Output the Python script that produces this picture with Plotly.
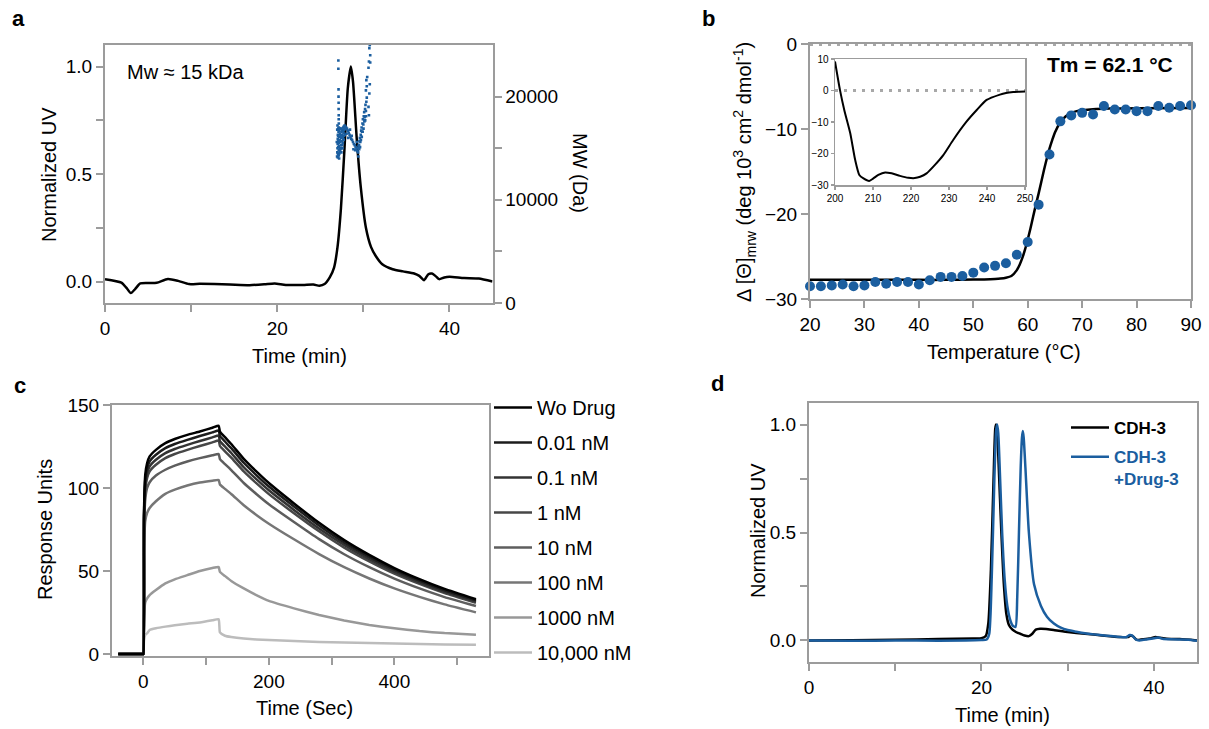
import plotly.graph_objects as go

W, H = 1209, 729
FONT = "Liberation Sans, Arial, Helvetica, sans-serif"
GRAY = "#9c9c9c"
BLUE = "#1b5e9f"


def px(x):
    return x / W


def py(y):
    return 1 - y / H


# ---------------- Panel a: SEC-MALS ----------------
a_time = [0, 1.9, 2.5, 3.0, 3.5, 4.1, 5, 6.0, 7.3, 8.5, 9.75, 11, 12.7, 14.5, 16.8, 18.5, 19.7, 21, 23, 24.2, 24.9,
          25.5, 26.1, 26.6, 27.0, 27.4, 27.8, 28.2, 28.55, 28.8, 29.25, 29.7, 30.3, 30.9, 31.5, 32.2, 33.4, 34.6,
          35.9, 36.5, 37.05, 37.55, 37.97, 38.4, 38.8, 39.4, 40.0, 41.7, 43.4, 45]
a_uv = [0.011, -0.005, -0.03, -0.054, -0.035, -0.009, -0.007, -0.006, 0.012, 0.003, -0.012, -0.011, -0.012, -0.014,
        -0.017, -0.013, -0.009, -0.016, -0.016, -0.014, -0.02, -0.012, 0.019, 0.065, 0.16, 0.34, 0.61, 0.90, 1.0,
        0.93, 0.655, 0.44, 0.25, 0.16, 0.115, 0.08, 0.057, 0.047, 0.037, 0.026, 0.006, 0.034, 0.037, 0.025, 0.011,
        0.019, 0.022, 0.016, 0.014, 0.0]
mw_time = [26.95, 26.98, 27.0, 27.02, 27.03, 27.05, 27.06, 27.08, 27.1, 27.12, 27.14, 27.16, 27.18, 27.2, 27.22,
           27.25, 27.28, 27.3, 27.33, 27.36, 27.4, 27.43, 27.46, 27.5, 27.53, 27.56, 27.6, 27.63, 27.66, 27.7,
           27.74, 27.78, 27.82, 27.86, 27.9,
           26.92, 26.97, 27.04, 27.09, 27.15, 27.21, 27.27, 27.35, 27.42, 27.48, 27.55, 27.62, 27.68, 27.76,
           27.84, 27.0, 27.07, 27.19, 27.31, 27.45, 27.58, 27.72,
           27.1, 27.1, 27.12, 27.12, 27.13, 27.13, 27.14, 27.14, 27.15, 27.16,
           28.0, 28.1, 28.2, 28.3, 28.4, 28.5, 28.6, 28.7, 28.8, 28.9, 29.0, 29.1, 29.2, 29.3, 29.35, 29.4, 29.45,
           28.05, 28.25, 28.45, 28.65, 28.85, 29.05, 29.25, 29.42,
           29.5, 29.55, 29.6, 29.65, 29.7, 29.75, 29.8, 29.85, 29.9, 29.95, 30.0, 30.05, 30.1, 30.15, 30.2, 30.25,
           30.3, 30.35, 30.4,
           29.52, 29.62, 29.72, 29.82, 29.92, 30.02, 30.12, 30.22, 30.32,
           30.3, 30.4, 30.35, 30.45, 30.6, 30.65, 30.7, 30.75, 30.8, 30.8, 30.65, 30.7, 30.75, 30.6]
mw_val = [14200, 14600, 15000, 15400, 15900, 16300, 14400, 15100, 15700, 16600, 14800, 15500, 16100, 15200, 14500,
          15800, 16400, 15000, 15600, 16200, 15300, 16000, 16600, 15700, 16300, 16800, 16100, 16700, 17000, 16500,
          17100, 16800, 17200, 16900, 17100,
          15600, 16800, 14100, 16900, 14300, 16700, 14700, 14900, 16900, 15000, 15300, 15500, 15900, 16200,
          16300, 17200, 16200, 14000, 16900, 14600, 15000, 15800,
          23500, 22700, 20700, 20000, 19400, 18800, 18200, 17800, 17400, 17000,
          17000, 16900, 16700, 16500, 16300, 16100, 15900, 15800, 15600, 15400, 15300, 15100, 14900, 14700, 15000,
          14600, 15200,
          16400, 16000, 16800, 16200, 14900, 14800, 15600, 14200,
          15300, 15700, 16000, 15600, 16300, 16700, 17000, 16600, 17400, 17800, 17300, 18100, 18500, 18000, 18800,
          19200, 18600, 19500, 19900,
          14900, 15100, 15800, 16100, 16600, 16900, 17600, 17700, 18100,
          20600, 21000, 21600, 21900, 19000, 18200, 20300, 21200, 23300, 24000, 23400, 24700, 25000, 22800]

# ---------------- Panel b: thermal melt + inset CD ----------------
b_temp = [20, 22, 24, 26, 28, 30, 32, 34, 36, 38, 40, 42, 44, 46, 48, 50, 52, 54, 56, 58, 60, 62, 64, 66, 68, 70,
          72, 74, 76, 78, 80, 82, 84, 86, 88, 90]
b_theta = [-28.5, -28.5, -28.4, -28.3, -28.5, -28.4, -28.0, -28.2, -28.0, -28.0, -28.3, -27.8, -27.4, -27.4,
           -27.3, -26.9, -26.3, -26.1, -25.8, -24.8, -23.3, -18.9, -13.0, -9.1, -8.4, -8.1, -8.3, -7.3, -7.7,
           -7.7, -7.9, -7.9, -7.3, -7.5, -7.3, -7.2]
fit_temp = [20, 30, 40, 45, 50, 52, 54, 55, 56, 57, 58, 58.5, 59, 59.5, 60, 60.5, 61, 61.5, 62, 62.5, 63, 63.5, 64,
            64.5, 65, 66, 67, 68, 69, 70, 72, 75, 80, 90]
fit_theta = [-27.75, -27.75, -27.75, -27.75, -27.72, -27.7, -27.65, -27.6, -27.5, -27.3, -26.6, -26.0, -25.2, -24.2,
             -23.0, -21.7, -20.3, -18.9, -17.6, -16.2, -14.8, -13.5, -12.3, -11.3, -10.4, -9.2, -8.5, -8.1, -7.9,
             -7.8, -7.68, -7.6, -7.56, -7.54]
zero_temp = [20, 90]
zero_theta = [0, 0]

cd_wl = [200, 201.3, 202.5, 204, 205.3, 206.4, 207.5, 209, 210.1, 211.4, 213.2, 214.9, 217.1, 219.3, 221, 222.4,
         224.1, 226.3, 228.5, 231.1, 234.6, 237.3, 239.9, 243.4, 245, 246.9, 248.5, 250]
cd_mre = [9.2, 0.2, -6.5, -13.5, -22, -26.8, -27.9, -28.7, -27.9, -26.8, -26.0, -26.3, -27.1, -27.7, -27.8, -27.4,
          -26.3, -23.6, -20.5, -15.7, -9.9, -6.2, -3.0, -1.3, -0.8, -0.5, -0.4, -0.3]
cd_zero_wl = [200, 250]
cd_zero = [0, 0]

# ---------------- Panel c: SPR sensorgrams ----------------
c_time = [-40, -1, 0, 1, 3, 6, 10, 20, 35, 50, 70, 90, 110, 120, 122, 130, 140, 160, 180, 200, 240, 280, 320, 360,
          400, 440, 480, 530]
c_names = ["Wo Drug", "0.01 nM", "0.1 nM", "1 nM", "10 nM", "100 nM", "1000 nM", "10,000 nM"]
c_wo = [0, 0, 0, 85, 108, 115, 119, 123, 127, 129.5, 132, 134, 136.3, 137.5,
        134, 130.6, 126.5, 117.6, 110, 103, 90.7, 79, 68.6, 59.7, 51.8, 45.1, 39.2, 33]
c_001 = [0, 0, 0, 83, 105, 112, 116, 120, 124, 126.5, 129, 131.3, 133.5, 134.7,
         131.3, 128.0, 124.0, 115.2, 107.8, 100.9, 88.9, 77.4, 67.2, 58.5, 50.8, 44.2, 38.4, 32.3]
c_01 = [0, 0, 0, 81, 102, 109, 113, 117, 121, 123.5, 126, 128.3, 130.5, 131.6,
        128.2, 125.0, 121.1, 112.5, 105.3, 98.6, 86.8, 75.6, 65.7, 57.1, 49.6, 43.2, 37.5, 31.6]
c_1 = [0, 0, 0, 79, 99, 106, 110, 114, 118, 120.5, 123, 125.3, 127.5, 128.6,
       125.3, 122.1, 118.3, 110.0, 102.9, 96.3, 84.8, 73.9, 64.1, 55.8, 48.4, 42.2, 36.7, 30.9]
c_10 = [0, 0, 0, 72, 93, 100, 103.5, 107.5, 111, 113.5, 116, 118, 119.7, 120.5,
        117.4, 114.4, 110.8, 103.0, 96.4, 90.2, 79.5, 69.2, 60.1, 52.3, 45.4, 39.5, 34.3, 28.9]
c_100 = [0, 0, 0, 60, 80, 85, 88, 92, 96.5, 99, 101.5, 103.3, 104.4, 104.8,
         102.1, 99.5, 96.4, 89.6, 83.8, 78.5, 69.1, 60.2, 52.3, 45.5, 39.5, 34.4, 29.9, 25.1]
c_1000 = [0, 0, 0, 22, 31, 33.5, 35.5, 38.5, 42.5, 45, 47.5, 50, 51.8, 52.4,
          49.5, 47, 44, 39.5, 35.5, 32, 27.5, 23.5, 20.2, 17.5, 15.5, 13.8, 12.6, 11.6]
c_10000 = [0, 0, 0, 8, 11.5, 12.5, 14.5, 15.5, 16.5, 17.3, 18.2, 19, 20.3, 21,
           13, 11, 10.2, 9.3, 8.8, 8.4, 7.8, 7.3, 6.9, 6.6, 6.3, 6.0, 5.8, 5.6]
c_series = [c_wo, c_001, c_01, c_1, c_10, c_100, c_1000, c_10000]
c_colors = ["#000000", "#1c1c1c", "#333333", "#474747", "#5e5e5e", "#767676", "#989898", "#bcbcbc"]

# ---------------- Panel d: SEC overlay ----------------
d_time_cdh = [0, 5, 10, 15, 19, 20, 20.5, 20.8, 21.1, 21.4, 21.6, 21.7, 21.85, 22.0, 22.3, 22.6, 22.9, 23.2, 23.6,
              24.0, 24.5, 25.0, 25.5, 25.9, 26.3, 26.8, 27.5, 28.5, 30, 32, 34, 36, 37, 37.3, 37.6, 38.0, 38.5,
              39.5, 40.2, 40.7, 41.5, 43, 45]
d_uv_cdh = [0.0, 0.001, 0.003, 0.006, 0.009, 0.01, 0.02, 0.08, 0.33, 0.74, 0.98, 1.0, 0.95, 0.81, 0.51, 0.26, 0.12,
            0.07, 0.05, 0.039, 0.031, 0.023, 0.02, 0.031, 0.05, 0.054, 0.053, 0.047, 0.039, 0.031, 0.023, 0.016,
            0.016, 0.023, 0.018, 0.003, 0.004, 0.009, 0.016, 0.012, 0.008, 0.006, 0.0]
d_time_drug = [0, 5, 10, 15, 20, 20.6, 20.9, 21.2, 21.5, 21.7, 21.82, 21.95, 22.1, 22.4, 22.7, 23.0, 23.3, 23.6,
               23.95, 24.15, 24.35, 24.55, 24.7, 24.8, 24.9, 25.1, 25.5, 26.1, 26.9, 27.6, 28.4, 29.2, 30, 31, 32,
               33, 34, 35, 36, 36.8, 37.2, 37.5, 37.9, 38.3, 39, 40, 40.5, 41, 42, 43, 44, 45]
d_uv_drug = [0.0, -0.002, 0.0, -0.001, 0.002, 0.004, 0.03, 0.3, 0.75, 0.97, 1.0, 0.96, 0.82, 0.5, 0.28, 0.16, 0.1,
             0.07, 0.062, 0.2, 0.5, 0.8, 0.94, 0.97, 0.94, 0.8, 0.5, 0.26, 0.16, 0.11, 0.078, 0.059, 0.048, 0.04,
             0.033, 0.028, 0.024, 0.02, 0.016, 0.015, 0.025, 0.022, 0.004, 0.0, 0.004, 0.01, 0.014, 0.008, 0.005,
             0.004, 0.003, -0.002]

fig = go.Figure()

# a
fig.add_trace(go.Scatter(x=mw_time, y=mw_val, mode="markers", xaxis="x", yaxis="y2",
                         marker=dict(symbol="square", size=2.6, color=BLUE), showlegend=False))
fig.add_trace(go.Scatter(x=a_time, y=a_uv, mode="lines", xaxis="x", yaxis="y",
                         line=dict(color="black", width=2.5, shape="spline", smoothing=0.6), showlegend=False))
# b
fig.add_trace(go.Scatter(x=zero_temp, y=zero_theta, mode="lines", xaxis="x2", yaxis="y3",
                         line=dict(color="#a8a8a8", width=4, dash="3px,6px"), showlegend=False))
fig.add_trace(go.Scatter(x=fit_temp, y=fit_theta, mode="lines", xaxis="x2", yaxis="y3",
                         line=dict(color="black", width=2.5, shape="spline", smoothing=0.6), showlegend=False))
fig.add_trace(go.Scatter(x=b_temp, y=b_theta, mode="markers", xaxis="x2", yaxis="y3", cliponaxis=False,
                         marker=dict(size=10, color=BLUE), showlegend=False))
# inset
fig.add_trace(go.Scatter(x=cd_zero_wl, y=cd_zero, mode="lines", xaxis="x3", yaxis="y4",
                         line=dict(color="#a8a8a8", width=3, dash="3px,6px"), showlegend=False))
fig.add_trace(go.Scatter(x=cd_wl, y=cd_mre, mode="lines", xaxis="x3", yaxis="y4",
                         line=dict(color="black", width=2, shape="spline", smoothing=0.6), showlegend=False))
# c (draw lightest first, legend ordered by rank)
for i in reversed(range(len(c_series))):
    fig.add_trace(go.Scatter(x=c_time, y=c_series[i], mode="lines", xaxis="x4", yaxis="y5",
                             name=c_names[i], legendgroup="c%d" % i, legendrank=i + 1, legend="legend",
                             line=dict(color=c_colors[i], width=2.5, shape="spline", smoothing=0.4)))
# d
fig.add_trace(go.Scatter(x=d_time_cdh, y=d_uv_cdh, mode="lines", xaxis="x5", yaxis="y6",
                         name="<b>CDH-3</b>", legendgroup="d1", legendrank=1, legend="legend2",
                         line=dict(color="black", width=2.5, shape="spline", smoothing=0.6)))
fig.add_trace(go.Scatter(x=d_time_drug, y=d_uv_drug, mode="lines", xaxis="x5", yaxis="y6",
                         name="<b><span style='color:%s'>CDH-3<br>+Drug-3</span></b>" % BLUE,
                         legendgroup="d2", legendrank=2, legend="legend2",
                         line=dict(color=BLUE, width=2.5, shape="spline", smoothing=0.6)))


def axis(domain, rng, tickvals, ticktext, anchor, size=19, ticklen=7, lw=2, **kw):
    d = dict(domain=domain, range=rng, tickvals=tickvals, ticktext=ticktext, anchor=anchor,
             showline=True, linecolor=GRAY, linewidth=lw, mirror=True, ticks="outside",
             ticklen=ticklen, tickwidth=lw, tickcolor=GRAY, showgrid=False, zeroline=False,
             tickfont=dict(family=FONT, size=size, color="black"), automargin=False, fixedrange=True)
    d.update(kw)
    return d


dom_a_x = [px(105), px(492.5)]
dom_a_y = [py(303), py(45)]
dom_b_x = [px(810), px(1191)]
dom_b_y = [py(299), py(44)]
dom_i_x = [px(835), px(1025)]
dom_i_y = [py(185), py(59)]
dom_c_x = [px(112), px(488.5)]
dom_c_y = [py(656), py(405)]
dom_d_x = [px(809), px(1197)]
dom_d_y = [py(662), py(403)]

fig.update_layout(
    width=W, height=H, margin=dict(l=0, r=0, t=0, b=0),
    paper_bgcolor="white", plot_bgcolor="white",
    font=dict(family=FONT, size=19, color="black"),
    xaxis=axis(dom_a_x, [0, 45], [0, 10, 20, 30, 40], ["0", "", "20", "", "40"], "y"),
    yaxis=axis(dom_a_y, [-0.1, 1.1], [0, 0.25, 0.5, 0.75, 1.0], ["0.0", "", "0.5", "", "1.0"], "x"),
    yaxis2=dict(overlaying="y", side="right", anchor="x", range=[0, 25000],
                tickvals=[0, 5000, 10000, 15000, 20000], ticktext=["0", "", "10000", "", "20000"],
                showline=True, linecolor=GRAY, linewidth=2, ticks="outside", ticklen=7, tickwidth=2,
                tickcolor=GRAY, showgrid=False, zeroline=False, automargin=False, fixedrange=True,
                tickfont=dict(family=FONT, size=19, color="black")),
    xaxis2=axis(dom_b_x, [20, 90], [20, 30, 40, 50, 60, 70, 80, 90], None, "y3"),
    yaxis3=axis(dom_b_y, [-30, 0], [-30, -20, -10, 0], None, "x2"),
    xaxis3=axis(dom_i_x, [200, 250], [200, 210, 220, 230, 240, 250], None, "y4", size=10, ticklen=3, lw=1.5),
    yaxis4=axis(dom_i_y, [-30, 10], [-30, -20, -10, 0, 10], None, "x3", size=10, ticklen=3, lw=1.5),
    xaxis4=axis(dom_c_x, [-50, 550], [0, 100, 200, 300, 400, 500], ["0", "", "200", "", "400", ""], "y5"),
    yaxis5=axis(dom_c_y, [-1.2, 150], [0, 50, 100, 150], None, "x4"),
    xaxis5=axis(dom_d_x, [0, 45], [0, 10, 20, 30, 40], ["0", "", "20", "", "40"], "y6"),
    yaxis6=axis(dom_d_y, [-0.1, 1.1], [0, 0.25, 0.5, 0.75, 1.0], ["0.0", "", "0.5", "", "1.0"], "x5"),
    legend=dict(x=px(489), y=py(388), xanchor="left", yanchor="top", bgcolor="rgba(0,0,0,0)",
                font=dict(family=FONT, size=20, color="black"), tracegroupgap=6, itemclick=False,
                itemwidth=38),
    legend2=dict(x=px(1066), y=py(410), xanchor="left", yanchor="top", bgcolor="rgba(0,0,0,0)", valign="top",
                 font=dict(family=FONT, size=17, color="black"), tracegroupgap=4, itemclick=False,
                 itemwidth=38),
)

annotations = [
    # panel letters
    dict(text="<b>a</b>", x=px(18), y=py(18)),
    dict(text="<b>b</b>", x=px(708), y=py(18)),
    dict(text="<b>c</b>", x=px(20), y=py(385)),
    dict(text="<b>d</b>", x=px(717), y=py(383)),
    # axis titles
    dict(text="Normalized UV", x=px(49), y=py(175), textangle=-90, font=dict(size=20)),
    dict(text="Time (min)", x=px(299), y=py(356), font=dict(size=20)),
    dict(text="MW (Da)", x=px(580), y=py(173), textangle=90, font=dict(size=20)),
    dict(text="\u0394 [\u0398]<sub>mrw</sub> (deg 10<sup>3</sup> cm<sup>2</sup> dmol<sup>-1</sup>)",
         x=px(744), y=py(172), textangle=-90, font=dict(size=20)),
    dict(text="Temperature (\u00b0C)", x=px(1004), y=py(352), font=dict(size=20)),
    dict(text="Response Units", x=px(45), y=py(530), textangle=-90, font=dict(size=20)),
    dict(text="Time (Sec)", x=px(304), y=py(708), font=dict(size=20)),
    dict(text="Normalized UV", x=px(758), y=py(531), textangle=-90, font=dict(size=20)),
    dict(text="Time (min)", x=px(1002), y=py(715), font=dict(size=20)),
    # in-plot labels
    dict(text="Mw \u2248 15 kDa", x=px(125), y=py(72), xanchor="left", font=dict(size=20)),
    dict(text="<b>Tm = 62.1 \u00b0C</b>", x=px(1110), y=py(65), font=dict(size=21)),
]
for a in annotations:
    a.setdefault("xref", "paper")
    a.setdefault("yref", "paper")
    a.setdefault("showarrow", False)
    a.setdefault("xanchor", "center")
    a.setdefault("yanchor", "middle")
    f = dict(family=FONT, size=22, color="black")
    f.update(a.get("font", {}))
    a["font"] = f
fig.update_layout(annotations=annotations)

fig.write_html("out.html", config={"displayModeBar": False, "staticPlot": True},
               post_script="document.body.style.margin='0px';document.body.style.padding='0px';")
